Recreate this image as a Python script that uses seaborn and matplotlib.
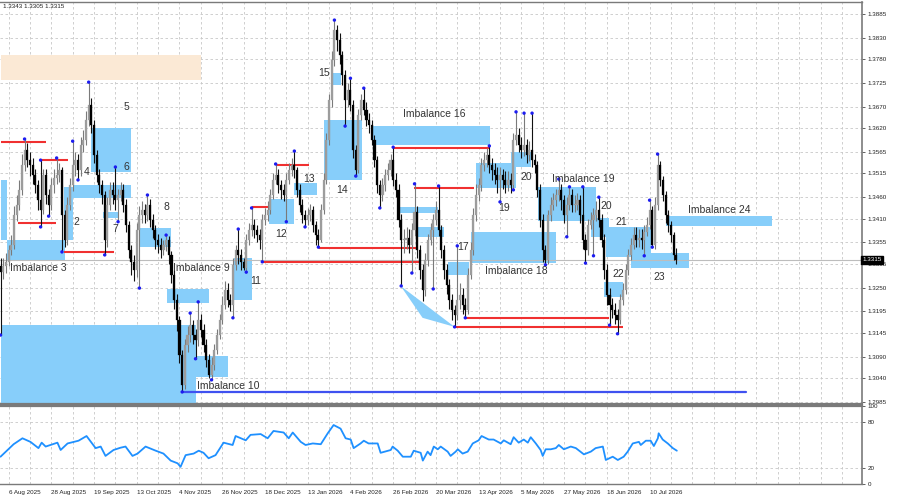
import numpy as np
import matplotlib
matplotlib.use("Agg")
import matplotlib.pyplot as plt
from matplotlib.patches import Rectangle, Polygon
import seaborn as sns

sns.set_style("white")
plt.rcParams['font.family'] = ['Liberation Sans', 'DejaVu Sans']

# daily bars, bar 0 ~ 1 Aug 2025, last bar ~ 24 Jul 2026
first_open = 1.3300
close = [
    1.3286, 1.3300, 1.3310, 1.3337, 1.3349, 1.3419, 1.3442, 1.3477, 1.3535, 1.3569,
    1.3546, 1.3535, 1.3511, 1.3488, 1.3453, 1.3430, 1.3511, 1.3465, 1.3442, 1.3488,
    1.3505, 1.3511, 1.3523, 1.3419, 1.3361, 1.3442, 1.3488, 1.3535, 1.3546, 1.3523,
    1.3581, 1.3593, 1.3639, 1.3674, 1.3627, 1.3558, 1.3511, 1.3488, 1.3465, 1.3361,
    1.3442, 1.3477, 1.3465, 1.3453, 1.3465, 1.3477, 1.3442, 1.3396, 1.3337, 1.3310,
    1.3291, 1.3384, 1.3419, 1.3430, 1.3419, 1.3442, 1.3407, 1.3384, 1.3361, 1.3349,
    1.3337, 1.3349, 1.3361, 1.3326, 1.3279, 1.3221, 1.3175, 1.3094, 1.3024, 1.3117,
    1.3140, 1.3163, 1.3140, 1.3129, 1.3175, 1.3152, 1.3117, 1.3082, 1.3047, 1.3071,
    1.3105, 1.3140, 1.3175, 1.3210, 1.3245, 1.3221, 1.3210, 1.3303, 1.3337, 1.3326,
    1.3310, 1.3296, 1.3361, 1.3384, 1.3396, 1.3384, 1.3372, 1.3361, 1.3407, 1.3419,
    1.3430, 1.3465, 1.3500, 1.3511, 1.3488, 1.3477, 1.3465, 1.3500, 1.3523, 1.3535,
    1.3523, 1.3477, 1.3442, 1.3419, 1.3407, 1.3419, 1.3430, 1.3396, 1.3372, 1.3361,
    1.3430, 1.3500, 1.3593, 1.3685, 1.3778, 1.3848, 1.3825, 1.3790, 1.3743, 1.3685,
    1.3709, 1.3674, 1.3569, 1.3523, 1.3651, 1.3685, 1.3662, 1.3639, 1.3627, 1.3593,
    1.3546, 1.3488, 1.3465, 1.3488, 1.3511, 1.3523, 1.3546, 1.3500, 1.3477, 1.3407,
    1.3361, 1.3361, 1.3365, 1.3349, 1.3384, 1.3426, 1.3337, 1.3291, 1.3245, 1.3314,
    1.3361, 1.3384, 1.3407, 1.3430, 1.3384, 1.3337, 1.3291, 1.3256, 1.3221, 1.3198,
    1.3187, 1.3221, 1.3233, 1.3210, 1.3198, 1.3279, 1.3337, 1.3419, 1.3465, 1.3488,
    1.3535, 1.3546, 1.3558, 1.3535, 1.3523, 1.3511, 1.3500, 1.3511, 1.3500, 1.3488,
    1.3500, 1.3488, 1.3593, 1.3604, 1.3581, 1.3569, 1.3581, 1.3558, 1.3569, 1.3546,
    1.3535, 1.3477, 1.3407, 1.3337, 1.3314, 1.3419, 1.3442, 1.3453, 1.3465, 1.3477,
    1.3453, 1.3419, 1.3442, 1.3465, 1.3442, 1.3442, 1.3453, 1.3419, 1.3361, 1.3337,
    1.3396, 1.3407, 1.3419, 1.3430, 1.3407, 1.3361, 1.3291, 1.3233, 1.3210, 1.3198,
    1.3187, 1.3175, 1.3221, 1.3245, 1.3291, 1.3326, 1.3349, 1.3372, 1.3361, 1.3365,
    1.3361, 1.3379, 1.3396, 1.3430, 1.3349, 1.3442, 1.3535, 1.3500, 1.3465, 1.3419,
    1.3396, 1.3372, 1.3326, 1.3315,
]
high = [
    1.3318, 1.3320, 1.3330, 1.3350, 1.3372, 1.3440, 1.3465, 1.3500, 1.3560, 1.3595,
    1.3585, 1.3565, 1.3550, 1.3525, 1.3500, 1.3546, 1.3525, 1.3525, 1.3480, 1.3505,
    1.3525, 1.3551, 1.3540, 1.3530, 1.3430, 1.3460, 1.3505, 1.3590, 1.3565, 1.3560,
    1.3600, 1.3615, 1.3660, 1.3727, 1.3690, 1.3640, 1.3570, 1.3525, 1.3500, 1.3475,
    1.3460, 1.3495, 1.3495, 1.3530, 1.3480, 1.3495, 1.3490, 1.3455, 1.3405, 1.3350,
    1.3325, 1.3400, 1.3440, 1.3450, 1.3445, 1.3465, 1.3455, 1.3420, 1.3395, 1.3375,
    1.3365, 1.3360, 1.3372, 1.3370, 1.3335, 1.3290, 1.3235, 1.3185, 1.3105, 1.3130,
    1.3160, 1.3191, 1.3175, 1.3155, 1.3217, 1.3190, 1.3165, 1.3130, 1.3095, 1.3090,
    1.3120, 1.3155, 1.3190, 1.3230, 1.3265, 1.3260, 1.3235, 1.3320, 1.3350, 1.3386,
    1.3340, 1.3320, 1.3375, 1.3400, 1.3435, 1.3410, 1.3395, 1.3385, 1.3420, 1.3435,
    1.3450, 1.3480, 1.3515, 1.3537, 1.3525, 1.3500, 1.3490, 1.3515, 1.3540, 1.3550,
    1.3567, 1.3530, 1.3490, 1.3455, 1.3430, 1.3435, 1.3445, 1.3440, 1.3405, 1.3385,
    1.3445, 1.3515, 1.3610, 1.3700, 1.3800, 1.3871, 1.3860, 1.3840, 1.3800, 1.3755,
    1.3725, 1.3736, 1.3685, 1.3580, 1.3665, 1.3700, 1.3713, 1.3680, 1.3655, 1.3640,
    1.3605, 1.3555, 1.3500, 1.3505, 1.3525, 1.3540, 1.3560, 1.3576, 1.3515, 1.3490,
    1.3420, 1.3385, 1.3390, 1.3385, 1.3400, 1.3491, 1.3440, 1.3350, 1.3305, 1.3330,
    1.3375, 1.3400, 1.3420, 1.3450, 1.3486, 1.3395, 1.3350, 1.3305, 1.3270, 1.3235,
    1.3210, 1.3347, 1.3260, 1.3250, 1.3225, 1.3295, 1.3355, 1.3435, 1.3490, 1.3505,
    1.3550, 1.3565, 1.3575, 1.3579, 1.3550, 1.3540, 1.3530, 1.3530, 1.3525, 1.3520,
    1.3520, 1.3515, 1.3610, 1.3658, 1.3620, 1.3600, 1.3655, 1.3595, 1.3590, 1.3655,
    1.3560, 1.3545, 1.3490, 1.3420, 1.3350, 1.3430, 1.3460, 1.3470, 1.3480, 1.3502,
    1.3490, 1.3465, 1.3460, 1.3484, 1.3480, 1.3465, 1.3470, 1.3465, 1.3484, 1.3375,
    1.3410, 1.3425, 1.3435, 1.3450, 1.3460, 1.3420, 1.3375, 1.3305, 1.3250, 1.3225,
    1.3215, 1.3200, 1.3235, 1.3260, 1.3305, 1.3340, 1.3365, 1.3390, 1.3390, 1.3385,
    1.3385, 1.3395, 1.3415, 1.3453, 1.3440, 1.3460, 1.3560, 1.3545, 1.3510, 1.3475,
    1.3430, 1.3405, 1.3380, 1.3343,
]
low = [
    1.3140, 1.3270, 1.3285, 1.3300, 1.3325, 1.3340, 1.3405, 1.3430, 1.3465, 1.3520,
    1.3530, 1.3510, 1.3490, 1.3470, 1.3430, 1.3391, 1.3420, 1.3445, 1.3416, 1.3430,
    1.3470, 1.3490, 1.3495, 1.3333, 1.3345, 1.3350, 1.3430, 1.3475, 1.3510, 1.3500,
    1.3510, 1.3565, 1.3580, 1.3625, 1.3610, 1.3540, 1.3495, 1.3470, 1.3445, 1.3326,
    1.3345, 1.3430, 1.3445, 1.3430, 1.3403, 1.3450, 1.3425, 1.3380, 1.3320, 1.3280,
    1.3265, 1.3275, 1.3249, 1.3400, 1.3400, 1.3405, 1.3390, 1.3365, 1.3340, 1.3330,
    1.3320, 1.3325, 1.3335, 1.3305, 1.3260, 1.3200, 1.3150, 1.3075, 1.3008, 1.3015,
    1.3100, 1.3125, 1.3120, 1.3085, 1.3115, 1.3135, 1.3100, 1.3065, 1.3040, 1.3036,
    1.3060, 1.3095, 1.3130, 1.3165, 1.3200, 1.3205, 1.3195, 1.3180, 1.3290, 1.3305,
    1.3290, 1.3290, 1.3286, 1.3350, 1.3370, 1.3365, 1.3355, 1.3340, 1.3310, 1.3395,
    1.3405, 1.3420, 1.3455, 1.3490, 1.3470, 1.3455, 1.3450, 1.3403, 1.3490, 1.3510,
    1.3505, 1.3460, 1.3425, 1.3400, 1.3391, 1.3395, 1.3405, 1.3380, 1.3350, 1.3344,
    1.3355, 1.3420, 1.3490, 1.3580, 1.3670, 1.3765, 1.3800, 1.3770, 1.3720, 1.3625,
    1.3670, 1.3660, 1.3550, 1.3509, 1.3515, 1.3640, 1.3650, 1.3625, 1.3610, 1.3580,
    1.3530, 1.3470, 1.3435, 1.3450, 1.3475, 1.3500, 1.3510, 1.3485, 1.3460, 1.3390,
    1.3254, 1.3330, 1.3340, 1.3330, 1.3284, 1.3370, 1.3320, 1.3270, 1.3220, 1.3230,
    1.3300, 1.3350, 1.3247, 1.3395, 1.3370, 1.3320, 1.3270, 1.3235, 1.3200, 1.3175,
    1.3159, 1.3175, 1.3200, 1.3190, 1.3180, 1.3190, 1.3270, 1.3325, 1.3405, 1.3450,
    1.3475, 1.3520, 1.3530, 1.3515, 1.3500, 1.3490, 1.3470, 1.3449, 1.3480, 1.3470,
    1.3475, 1.3470, 1.3477, 1.3580, 1.3565, 1.3550, 1.3555, 1.3540, 1.3545, 1.3530,
    1.3515, 1.3460, 1.3390, 1.3310, 1.3303, 1.3305, 1.3405, 1.3430, 1.3440, 1.3450,
    1.3430, 1.3400, 1.3368, 1.3430, 1.3425, 1.3425, 1.3430, 1.3400, 1.3340, 1.3307,
    1.3325, 1.3385, 1.3324, 1.3405, 1.3390, 1.3345, 1.3270, 1.3210, 1.3163, 1.3180,
    1.3165, 1.3143, 1.3165, 1.3210, 1.3235, 1.3280, 1.3315, 1.3340, 1.3345, 1.3345,
    1.3340, 1.3324, 1.3370, 1.3385, 1.3344, 1.3340, 1.3430, 1.3485, 1.3450, 1.3400,
    1.3380, 1.3355, 1.3315, 1.3305,
]

# swing points marked with blue dots
swing_high_bars = [9, 15, 21, 27, 33, 43, 55, 62, 71, 74, 89, 94, 103, 110, 125, 131,
                   136, 147, 155, 164, 171, 183, 193, 196, 199, 209, 213, 218, 224, 243, 246]
swing_low_bars = [0, 15, 18, 23, 29, 39, 44, 52, 68, 73, 79, 87, 92, 98, 107, 114, 119,
                  129, 133, 142, 150, 154, 162, 170, 174, 187, 192, 204, 212, 219, 222,
                  228, 231, 241, 244]

# imbalance zones: start bar, end bar, low, high
box_start = [0, 2.6, 23.6, 27.3, 33.7, 38.2, 52, 62.2, 0, 73, 87.3, 100.4, 110, 121, 124,
             139.3, 148.7, 156.2, 167.4, 176, 177.9, 191, 201.1, 221, 226.6, 225.8, 236, 249]
box_end = [2.6, 24.3, 27.3, 49, 49, 44.2, 64, 77.9, 73, 85, 94, 110, 118.4, 135.2, 127.3,
           183.1, 163.7, 166, 175.3, 207.9, 192.9, 198.5, 222.8, 227.7, 243.4, 233, 257.7, 288.8]
box_low = [1.3361, 1.3314, 1.3361, 1.3458, 1.3518, 1.3412, 1.3344, 1.3215, 1.2983, 1.3043,
           1.3221, 1.3398, 1.3465, 1.3500, 1.3720, 1.3581, 1.3423, 1.3368, 1.3280, 1.3307,
           1.3481, 1.3530, 1.3405, 1.3368, 1.3321, 1.3229, 1.3296, 1.3393]
box_high = [1.3500, 1.3361, 1.3484, 1.3488, 1.3620, 1.3426, 1.3389, 1.3247, 1.3163, 1.3092,
            1.3319, 1.3456, 1.3493, 1.3639, 1.3748, 1.3625, 1.3437, 1.3391, 1.3310, 1.3379,
            1.3539, 1.3565, 1.3484, 1.3412, 1.3391, 1.3263, 1.3331, 1.3416]

# old zone (peach)
old_zone = (0, 75, 1.3732, 1.3790)

# liquidity levels (red)
red_start = [0, 15.4, 6.4, 23.6, 94, 98.1, 103, 119.1, 147.2, 154.7, 174.2, 170]
red_end = [17.2, 25.1, 20.6, 42.3, 100.4, 157.3, 115.4, 156.2, 183.1, 177.2, 227.7, 233]
red_price = [1.3588, 1.3546, 1.3400, 1.3333, 1.3437, 1.3310, 1.3535, 1.3342, 1.3574,
             1.3481, 1.3180, 1.3159]

# blue level from the Nov low
blue_level = (68.2, 279, 1.3008)

# wedge near 17
wedge_bars = [149.8, 158, 170]
wedge_prices = [1.3254, 1.3180, 1.3159]

label_text = ['5', '6', '4', '2', '7', '8', 'Imbalance 3', 'Imbalance 9', '11', '12', '13',
              '14', '15', 'Imbalance 16', 'Imbalance 10', '17', 'Imbalance 18', '19', '20',
              'Imbalance 19', '20', '21', '22', '23', 'Imbalance 24']
label_bar = [46, 46, 31, 27.3, 42, 61, 3.7, 64.4, 93.6, 103, 113.5, 125.5, 119, 150.6,
             73.4, 170.8, 181.3, 186.5, 194.8, 206.4, 224.7, 230.3, 229.2, 244.6, 257.3]
label_price = [1.3669, 1.3530, 1.3518, 1.3402, 1.3386, 1.3437, 1.3296, 1.3296, 1.3266,
               1.3375, 1.3502, 1.3477, 1.3748, 1.3653, 1.3022, 1.3344, 1.3289, 1.3435,
               1.3507, 1.3502, 1.3440, 1.3402, 1.3282, 1.3275, 1.3430]

price_ticks = [1.3885, 1.3830, 1.3780, 1.3725, 1.3670, 1.3620, 1.3565, 1.3515, 1.3460,
               1.3410, 1.3355, 1.3305, 1.3250, 1.3195, 1.3145, 1.3090, 1.3040, 1.2985]
date_bars = [3, 19, 35, 51, 67, 83, 99, 115, 131, 147, 163, 179, 195, 211, 227, 243]
date_labels = ['6 Aug 2025', '28 Aug 2025', '19 Sep 2025', '13 Oct 2025', '4 Nov 2025',
               '26 Nov 2025', '18 Dec 2025', '13 Jan 2026', '4 Feb 2026', '26 Feb 2026',
               '20 Mar 2026', '13 Apr 2026', '5 May 2026', '27 May 2026', '18 Jun 2026',
               '10 Jul 2026']

# oscillator (read at irregular bar positions)
rsi_bar = [0, 4.9, 8.2, 11.2, 14.2, 15.4, 16.9, 21.3, 22.5, 25.1, 29.2, 32.2, 35.6, 37.5,
           39.3, 42.3, 44.9, 46.8, 49.4, 51.3, 54.3, 58.1, 61, 63.7, 66.3, 67.4, 69.3, 72.3,
           74.2, 76, 77.9, 80.5, 83.5, 86.9, 88, 91.8, 93.6, 97.4, 100, 102.2, 106, 107.9,
           109.4, 112.4, 114.2, 116.9, 119.9, 122.5, 124.7, 127.3, 129.2, 131.1, 132.2,
           134.8, 136, 137.8, 141.2, 142.3, 146.1, 146.8, 148.7, 150.6, 153.6, 154.7, 157.3,
           158.1, 159.9, 161, 162.2, 163.7, 164.8, 167.4, 168.5, 170.4, 171.2, 173, 174.9,
           176.8, 179, 180.1, 182.8, 184.6, 187.3, 188.4, 191, 192.1, 194, 195.9, 197.4,
           198.5, 200.4, 202.2, 203, 204.1, 206, 207.9, 209, 210.9, 213.5, 215.4, 218.4,
           221, 222.8, 225.5, 226.6, 229.2, 231.1, 233.3, 234.8, 236.7, 239, 239.7, 241.6,
           243.4, 244.6, 246.1, 246.4, 247.9, 249.8, 251.7, 253.2]
rsi_value = [35, 51, 58.6, 54, 46, 53, 48, 53, 43.6, 52, 55.5, 61.5, 46, 48, 36, 43.6, 46.5,
             48, 36, 39, 48, 42.7, 39, 30, 26.5, 22, 37, 39, 42.7, 40, 33, 37, 53, 50, 61.5,
             56, 63, 64, 58.6, 68, 66, 58.6, 66, 54, 50, 52, 51, 65, 75.6, 71, 58.6, 57, 46,
             52, 55.5, 52, 52, 40, 43.6, 48, 42.7, 35, 35, 42.7, 40, 30, 41.5, 37, 48, 44.5,
             48, 41.5, 36, 41.5, 44.5, 39, 41.5, 52, 56, 61.5, 57, 57, 52, 56, 51, 60, 53, 57,
             53, 60, 52, 43.6, 36, 44.5, 44.5, 46, 50, 44.5, 48, 46, 38, 41.5, 46, 48, 30.8,
             35, 30.8, 35, 41.5, 52, 54, 50, 55.5, 55.5, 48.7, 58.6, 65, 57, 52, 46, 42.7]

close = np.array(close)
high = np.array(high)
low = np.array(low)
opn = np.concatenate([[first_open], close[:-1]])
bars = np.arange(len(close))

BOX = '#87CEFA'
GRID = '#C8C8C8'
FRAME = '#7A7A7A'
TXT = '#333333'

fig = plt.figure(figsize=(9, 5), dpi=100)
ax = fig.add_axes([0, 0.192, 0.958, 0.804])
ax2 = fig.add_axes([0, 0.032, 0.958, 0.156])

xmin, xmax = -0.2, 322.6
ax.set_xlim(xmin, xmax)
ax.set_ylim(1.2980, 1.3913)

# grid
ax.set_yticks(price_ticks)
ax.set_xticks(np.arange(3, 323, 8))
ax.grid(True, color=GRID, linestyle=(0, (3, 3)), linewidth=0.6, zorder=0)
ax.set_axisbelow(True)

# zones
ax.add_patch(Rectangle((old_zone[0], old_zone[2]), old_zone[1] - old_zone[0],
                       old_zone[3] - old_zone[2], facecolor='#FBE9D5', edgecolor='none', zorder=1))
for b0, b1, lo, hi in zip(box_start, box_end, box_low, box_high):
    ax.add_patch(Rectangle((b0, lo), b1 - b0, hi - lo, facecolor=BOX, edgecolor='none', zorder=1))
ax.add_patch(Polygon(list(zip(wedge_bars, wedge_prices)), closed=True,
                     facecolor=BOX, edgecolor='none', zorder=1))

# current price line
ax.axhline(close[-1], color='#BDBDBD', linewidth=0.8, zorder=1.5)

# levels
for b0, b1, p in zip(red_start, red_end, red_price):
    ax.plot([b0, b1], [p, p], color='#F03030', linewidth=1.5, zorder=2.5, solid_capstyle='butt')
ax.plot([blue_level[0], blue_level[1]], [blue_level[2], blue_level[2]],
        color='#3F51F0', linewidth=1.6, zorder=2.5)

# candles
up = close >= opn
body_col = np.where(up, '#9C9C9C', '#000000')
wick_col = np.where(up, '#7A7A7A', '#111111')
ax.vlines(bars, low, high, colors=wick_col, linewidth=0.8, zorder=3)
body_lo = np.minimum(opn, close)
body_h = np.maximum(np.abs(close - opn), 0.00025)
ax.bar(bars, body_h, bottom=body_lo, width=0.78, color=body_col, edgecolor=body_col,
       linewidth=0.2, zorder=3.2)

# swing dots
sns.scatterplot(x=swing_high_bars, y=high[swing_high_bars], ax=ax, color='#1C1CF0',
                s=6, edgecolor='none', zorder=4)
sns.scatterplot(x=swing_low_bars, y=low[swing_low_bars], ax=ax, color='#1C1CF0',
                s=6, edgecolor='none', zorder=4)

for t, b, p in zip(label_text, label_bar, label_price):
    ax.text(b, p, t, ha='left', va='center', fontsize=7.5, color=TXT, zorder=5)

# axes styling
ax.yaxis.tick_right()
ax.set_yticklabels([f'{v:.4f}' for v in price_ticks])
ax.tick_params(axis='y', labelsize=4.5, length=2, pad=2, colors='#222222', width=0.5)
ax.tick_params(axis='x', length=0, labelbottom=False)
ax.spines['left'].set_visible(False)
ax.spines['top'].set_color(FRAME)
ax.spines['top'].set_linewidth(1.0)
ax.spines['right'].set_color(FRAME)
ax.spines['right'].set_linewidth(1.2)
ax.spines['bottom'].set_color(FRAME)
ax.spines['bottom'].set_linewidth(1.6)
ax.set_xlabel('')
ax.set_ylabel('')

ax.text(1.0, close[-1], f'{close[-1]:.4f}', transform=ax.get_yaxis_transform(),
        ha='left', va='center', fontsize=4.5, color='white', zorder=6, clip_on=False,
        bbox=dict(boxstyle='square,pad=0.25', facecolor='black', edgecolor='black'))

fig.text(0.003, 0.986, f'{high[-1]:.4f} {low[-1]:.4f} {close[-1]:.4f}',
         fontsize=4.5, color='#202020', va='center', ha='left')

# oscillator panel
sns.lineplot(x=rsi_bar, y=rsi_value, ax=ax2, color='#1E90FF', linewidth=1.3,
             sort=False, estimator=None)
ax2.set_xlim(xmin, xmax)
ax2.set_ylim(0, 100)
ax2.set_xticks(np.arange(3, 323, 8), minor=True)
ax2.set_xticks(date_bars)
ax2.set_xticklabels(date_labels, ha='left')
ax2.set_yticks([0, 20, 80, 100])
ax2.yaxis.tick_right()
ax2.grid(True, which='both', color=GRID, linestyle=(0, (3, 3)), linewidth=0.6)
ax2.tick_params(axis='x', which='major', labelsize=4.5, length=2, pad=2, colors='#222222', width=0.5)
ax2.tick_params(axis='x', which='minor', length=0)
ax2.tick_params(axis='y', labelsize=4.5, length=2, pad=2, colors='#222222', width=0.5)
ax2.spines['left'].set_visible(False)
for s in ['top', 'right', 'bottom']:
    ax2.spines[s].set_color(FRAME)
ax2.spines['top'].set_linewidth(1.6)
ax2.spines['right'].set_linewidth(1.2)
ax2.spines['bottom'].set_linewidth(1.0)
ax2.set_xlabel('')
ax2.set_ylabel('')

fig.savefig('out.png', dpi=100)
